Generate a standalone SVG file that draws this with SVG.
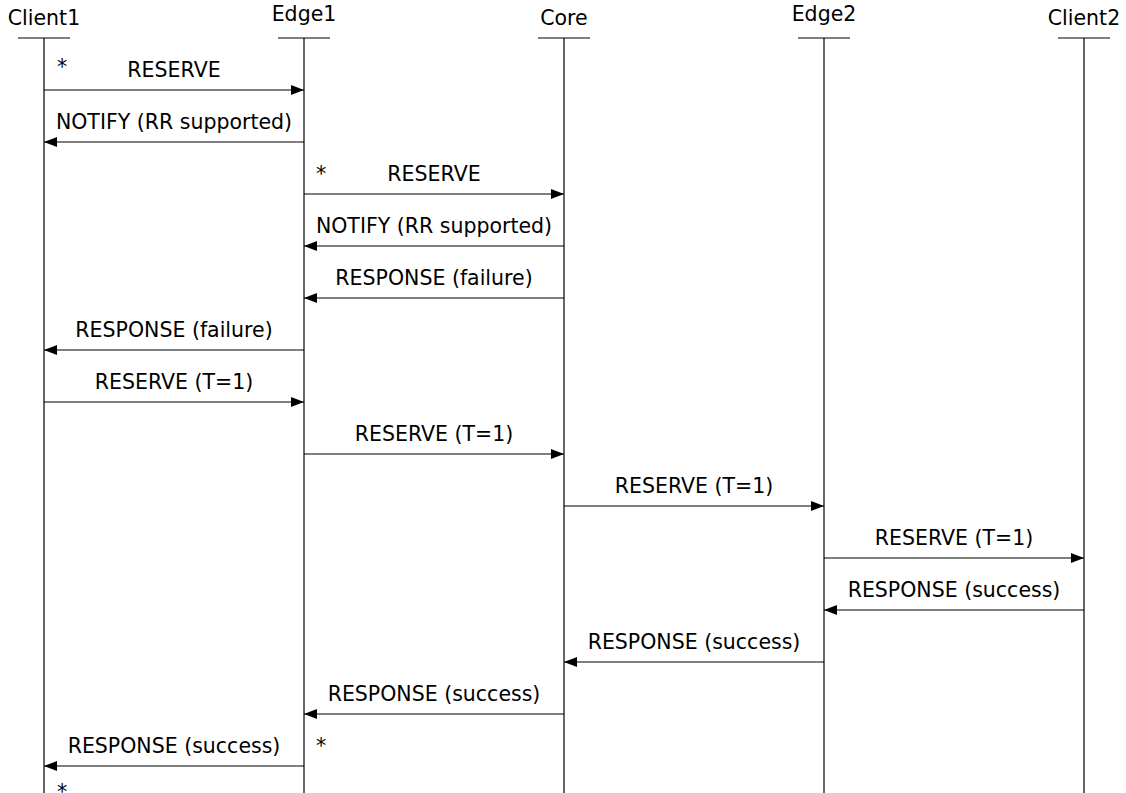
<svg xmlns="http://www.w3.org/2000/svg" width="1126" height="793" viewBox="0 0 1126 793">
<style>
text{font-family:"DejaVu Sans",sans-serif;font-size:20.5px;fill:#000;text-anchor:middle}
.l{stroke:#000;stroke-width:1.2;fill:none}
.m{stroke:#000;stroke-width:1.2;fill:none}
</style>
<defs>
<marker id="ah" viewBox="0 0 13 10" refX="13" refY="5" markerWidth="13" markerHeight="10" markerUnits="userSpaceOnUse" orient="auto">
<path d="M0,0L13,5L0,10z" fill="#000"/>
</marker>
</defs>
<rect width="1126" height="793" fill="#fff"/>
<g id="Client1"><text x="44" y="25">Client1</text><line class="l" x1="18" y1="38" x2="70" y2="38"/><line class="l" x1="44" y1="38" x2="44" y2="793"/></g>
<g id="Edge1"><text x="304" y="21">Edge1</text><line class="l" x1="278" y1="38" x2="330" y2="38"/><line class="l" x1="304" y1="38" x2="304" y2="793"/></g>
<g id="Core"><text x="564" y="25">Core</text><line class="l" x1="538" y1="38" x2="590" y2="38"/><line class="l" x1="564" y1="38" x2="564" y2="793"/></g>
<g id="Edge2"><text x="824" y="21">Edge2</text><line class="l" x1="798" y1="38" x2="850" y2="38"/><line class="l" x1="824" y1="38" x2="824" y2="793"/></g>
<g id="Client2"><text x="1084" y="25">Client2</text><line class="l" x1="1058" y1="38" x2="1110" y2="38"/><line class="l" x1="1084" y1="38" x2="1084" y2="793"/></g>
<g id="connectors">
<line class="m" x1="44" y1="90" x2="304" y2="90" marker-end="url(#ah)"/><text x="174" y="77">RESERVE</text>
<line class="m" x1="304" y1="142" x2="44" y2="142" marker-end="url(#ah)"/><text x="174" y="129">NOTIFY (RR supported)</text>
<line class="m" x1="304" y1="194" x2="564" y2="194" marker-end="url(#ah)"/><text x="434" y="181">RESERVE</text>
<line class="m" x1="564" y1="246" x2="304" y2="246" marker-end="url(#ah)"/><text x="434" y="233">NOTIFY (RR supported)</text>
<line class="m" x1="564" y1="298" x2="304" y2="298" marker-end="url(#ah)"/><text x="434" y="285">RESPONSE (failure)</text>
<line class="m" x1="304" y1="350" x2="44" y2="350" marker-end="url(#ah)"/><text x="174" y="337">RESPONSE (failure)</text>
<line class="m" x1="44" y1="402" x2="304" y2="402" marker-end="url(#ah)"/><text x="174" y="389">RESERVE (T=1)</text>
<line class="m" x1="304" y1="454" x2="564" y2="454" marker-end="url(#ah)"/><text x="434" y="441">RESERVE (T=1)</text>
<line class="m" x1="564" y1="506" x2="824" y2="506" marker-end="url(#ah)"/><text x="694" y="493">RESERVE (T=1)</text>
<line class="m" x1="824" y1="558" x2="1084" y2="558" marker-end="url(#ah)"/><text x="954" y="545">RESERVE (T=1)</text>
<line class="m" x1="1084" y1="610" x2="824" y2="610" marker-end="url(#ah)"/><text x="954" y="597">RESPONSE (success)</text>
<line class="m" x1="824" y1="662" x2="564" y2="662" marker-end="url(#ah)"/><text x="694" y="649">RESPONSE (success)</text>
<line class="m" x1="564" y1="714" x2="304" y2="714" marker-end="url(#ah)"/><text x="434" y="701">RESPONSE (success)</text>
<line class="m" x1="304" y1="766" x2="44" y2="766" marker-end="url(#ah)"/><text x="174" y="753">RESPONSE (success)</text>
</g>
<g id="marks">
<text x="62" y="74">*</text>
<text x="321" y="181">*</text>
<text x="321" y="753">*</text>
<text x="62" y="799">*</text>
</g>
</svg>
